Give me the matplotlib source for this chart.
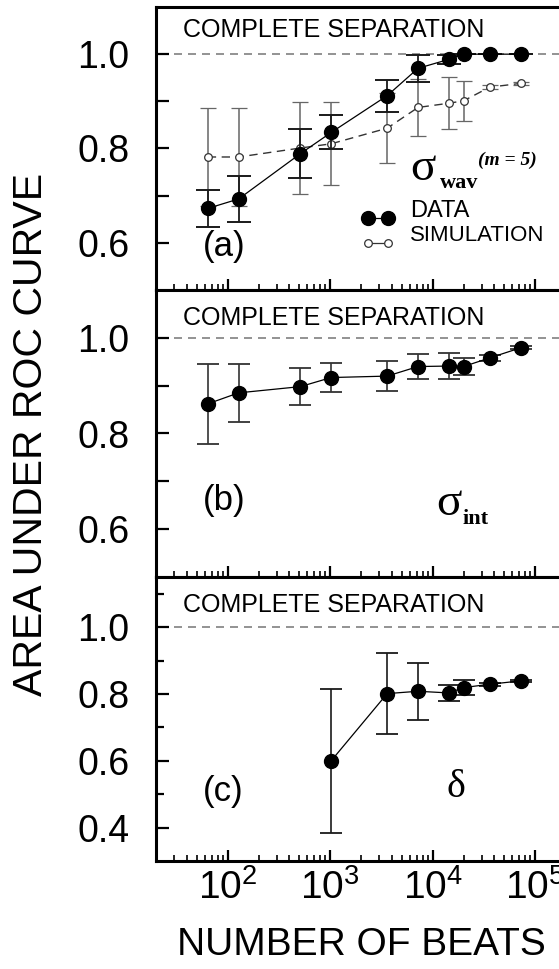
import numpy as np
import matplotlib
matplotlib.use("Agg")
import matplotlib.pyplot as plt
from matplotlib.ticker import LogLocator, FixedLocator, NullFormatter

plt.rcParams['font.family'] = ['Liberation Sans', 'DejaVu Sans']
plt.rcParams['mathtext.fontset'] = 'custom'
plt.rcParams['mathtext.rm'] = 'Liberation Sans'

# number of beats
beats = [64, 128, 512, 1024, 3600, 7200, 14400, 20000, 36000, 72000]
beats_c = [1024, 3600, 7200, 14400, 20000, 36000, 72000]

# (a) sigma_wav, m = 5
auc_a = [0.673, 0.693, 0.789, 0.834, 0.912, 0.970, 0.989, 1.0, 1.0, 1.0]
err_a = [0.039, 0.048, 0.052, 0.036, 0.034, 0.029, 0.010, 0.0, 0.0, 0.0]
sim_a = [0.782, 0.782, 0.801, 0.810, 0.843, 0.887, 0.896, 0.901, 0.930, 0.938]
sim_err_a = [0.104, 0.103, 0.097, 0.088, 0.074, 0.061, 0.055, 0.042, 0.004, 0.003]

# (b) sigma_int
auc_b = [0.862, 0.885, 0.898, 0.917, 0.920, 0.940, 0.941, 0.940, 0.958, 0.979]
err_b = [0.083, 0.060, 0.038, 0.031, 0.032, 0.027, 0.028, 0.018, 0.006, 0.003]

# (c) delta
auc_c = [0.600, 0.801, 0.808, 0.803, 0.819, 0.829, 0.839]
err_c = [0.215, 0.122, 0.085, 0.024, 0.022, 0.004, 0.003]

fig = plt.figure(figsize=(5.59, 9.69), dpi=100)

W, H = 559.0, 969.0
x0, x1 = 156.0, 566.0
def box(top, bot):
    return [x0 / W, 1 - bot / H, (x1 - x0) / W, (bot - top) / H]

ax_a = fig.add_axes(box(7, 290))
ax_b = fig.add_axes(box(290, 577))
ax_c = fig.add_axes(box(577, 861))

def style(ax, ylim, major, minor, minor_len):
    ax.set_xscale('log')
    ax.set_xlim(20, 2e5)
    ax.set_ylim(*ylim)
    for s in ax.spines.values():
        s.set_linewidth(2.2)
    ax.xaxis.set_major_locator(LogLocator(base=10, numticks=10))
    ax.xaxis.set_minor_locator(LogLocator(base=10, subs=np.arange(2, 10), numticks=20))
    ax.xaxis.set_minor_formatter(NullFormatter())
    ax.yaxis.set_major_locator(FixedLocator(major))
    ax.yaxis.set_minor_locator(FixedLocator(minor))
    ax.set_yticklabels(['%.1f' % v for v in major])
    ax.tick_params(axis='x', which='major', direction='in', length=8, width=1.6,
                   labelsize=28, pad=6, top=False)
    ax.tick_params(axis='x', which='minor', direction='in', length=4.5, width=1.2, top=False)
    ax.tick_params(axis='y', which='major', direction='in', length=9, width=1.6,
                   labelsize=27, pad=19, right=False)
    ax.tick_params(axis='y', which='minor', direction='in', length=minor_len, width=1.6,
                   right=False)
    ax.axhline(1.0, xmin=0.045, xmax=1, color='#808080', lw=1.2, ls=(0, (4.8, 3.6)), zorder=1)

style(ax_a, (0.5, 1.1), [0.6, 0.8, 1.0], [0.7, 0.9], 9)
style(ax_b, (0.5, 1.1), [0.6, 0.8, 1.0], [0.7, 0.9], 9)
style(ax_c, (0.3, 1.15), [0.4, 0.6, 0.8, 1.0], [0.5, 0.7, 0.9, 1.1], 6)
ax_a.tick_params(axis='x', labelbottom=False)
ax_b.tick_params(axis='x', labelbottom=False)

# panel (a)
ax_a.errorbar(beats, sim_a, yerr=sim_err_a, fmt='o', ms=5.5, mfc='white', mec='#333333',
              mew=0.9, ecolor='#666666', elinewidth=1.1, capsize=5.5, capthick=1.1, zorder=3)
ax_a.plot(beats, sim_a, color='#333333', lw=1.0, ls=(0, (6, 4)), zorder=2)
ax_a.errorbar(beats, auc_a, yerr=err_a, fmt='o-', ms=10, color='black', lw=0.9,
              ecolor='#1a1a1a', elinewidth=1.3, capsize=8.5, capthick=1.4, zorder=4)

# panel (b)
ax_b.errorbar(beats, auc_b, yerr=err_b, fmt='o-', ms=10, color='black', lw=0.9,
              ecolor='#333333', elinewidth=1.2, capsize=8, capthick=1.3, zorder=4)

# panel (c)
ax_c.errorbar(beats_c, auc_c, yerr=err_c, fmt='o-', ms=10, color='black', lw=0.9,
              ecolor='#1a1a1a', elinewidth=1.2, capsize=8, capthick=1.3, zorder=4)

# texts
for ax, yb in ((ax_a, 0.894), (ax_b, 0.878), (ax_c, 0.877)):
    ax.text(0.066, yb, 'COMPLETE SEPARATION', transform=ax.transAxes, fontsize=18,
            va='baseline', ha='left')

ax_a.text(0.115, 0.152, '(a)', transform=ax_a.transAxes, fontsize=25, va='center')
ax_b.text(0.115, 0.265, '(b)', transform=ax_b.transAxes, fontsize=25, va='center')
ax_c.text(0.115, 0.243, '(c)', transform=ax_c.transAxes, fontsize=25, va='center')

serif = 'Liberation Serif'
ax_a.text(0.619, 0.389, '\u03c3', transform=ax_a.transAxes, fontsize=34,
          family=serif, va='baseline')
ax_a.text(0.692, 0.360, 'wav', transform=ax_a.transAxes, fontsize=16, family=serif,
          weight='bold', va='baseline')
ax_a.text(0.785, 0.442, '(m = 5)', transform=ax_a.transAxes, fontsize=14, family=serif,
          weight='bold', style='italic', va='baseline')

ax_b.text(0.684, 0.216, '\u03c3', transform=ax_b.transAxes, fontsize=34,
          family=serif, va='baseline')
ax_b.text(0.748, 0.186, 'int', transform=ax_b.transAxes, fontsize=16, family=serif,
          weight='bold', va='baseline')

ax_c.text(0.708, 0.225, '\u03b4', transform=ax_c.transAxes, fontsize=29,
          family=serif, va='baseline')

# legend in panel (a)
ax_a.plot([0.517, 0.566], [0.254, 0.254], '-', color='black', lw=0.9, marker='o', ms=10,
          transform=ax_a.transAxes, clip_on=False)
ax_a.plot([0.517, 0.566], [0.166, 0.166], color='#333333', lw=0.9, marker='o', ms=5.5,
          mfc='white', mec='#333333', mew=0.9, transform=ax_a.transAxes, clip_on=False)
ax_a.text(0.620, 0.279, 'DATA', transform=ax_a.transAxes, fontsize=17, va='center')
ax_a.text(0.620, 0.194, 'SIMULATION', transform=ax_a.transAxes, fontsize=16, va='center')

fig.text(x0 / W + (x1 - x0) / W / 2, 1 - 945 / H, 'NUMBER OF BEATS', fontsize=28,
         ha='center', va='center')
fig.text(31 / W, 1 - 434 / H, 'AREA UNDER ROC CURVE', fontsize=29.5, rotation=90,
         ha='center', va='center')

fig.savefig('out.png', dpi=100)
